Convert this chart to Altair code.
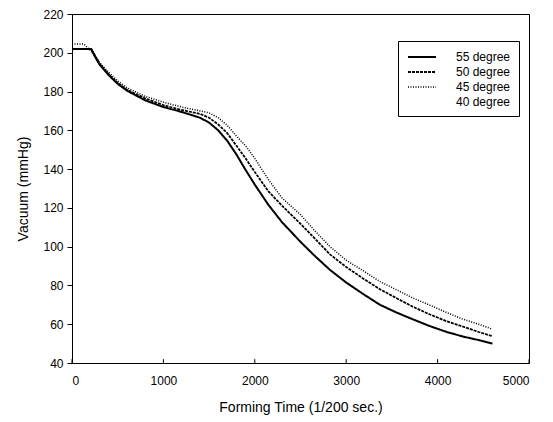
import altair as alt
import pandas as pd

series = ["55 degree", "50 degree", "45 degree", "40 degree"]

t55 = [0, 210, 240, 300, 400, 500, 600, 800, 1000, 1200, 1400, 1500, 1600, 1700, 1800, 1900,
       2000, 2150, 2300, 2500, 2650, 2823, 3000, 3188, 3370, 3552, 3730, 3917, 4100, 4282, 4450, 4600]
v55 = [202, 202, 199, 194, 188.5, 184, 180.5, 175.5, 172, 169.5, 166.5, 164, 160, 154.5, 147.5, 139.5,
       132, 121.5, 112.5, 102.5, 95.5, 88, 81.5, 75.5, 70, 66, 62.5, 59, 56, 53.6, 51.8, 50]

t50 = [0, 210, 240, 300, 400, 500, 600, 800, 1000, 1200, 1400, 1500, 1600, 1700, 1800, 1900,
       2000, 2150, 2300, 2500, 2650, 2823, 3000, 3188, 3370, 3552, 3730, 3917, 4100, 4282, 4450, 4600]
v50 = [202, 202, 199.5, 194.5, 189, 184.5, 181, 176.5, 173, 170.5, 168.5, 166.5, 163, 158.5, 152, 145.5,
       138.5, 128.5, 121, 111.8, 104.5, 96, 89.5, 83.5, 78, 73.4, 69, 65, 61.5, 58.7, 56, 53.8]

t45 = [0, 130, 240, 300, 400, 500, 600, 800, 1000, 1200, 1400, 1500, 1600, 1700, 1800, 1900,
       2000, 2150, 2300, 2500, 2650, 2823, 3000, 3188, 3370, 3552, 3730, 3917, 4100, 4282, 4450, 4600]
v45 = [204.5, 204.5, 199.5, 195, 190, 185.5, 182, 177.5, 174.5, 172, 170, 169, 166.5, 162.5, 157, 152,
       145.5, 134.5, 125, 116.5, 108.5, 100, 93, 87.5, 82, 77.7, 73.5, 69.8, 66, 62.5, 60, 57.4]

x_ticks = [0, 1000, 2000, 3000, 4000, 5000]
y_ticks = [40, 60, 80, 100, 120, 140, 160, 180, 200, 220]

rows = []
for name, ts, vs in [("55 degree", t55, v55), ("50 degree", t50, v50), ("45 degree", t45, v45)]:
    for t, v in zip(ts, vs):
        rows.append({"series": name, "time": t, "vacuum": v})
df = pd.DataFrame(rows)
tick_df = pd.DataFrame({"time": x_ticks})

FONT = "Liberation Sans"

x_scale = alt.Scale(domain=[0, 5000], nice=False)
x_axis = alt.Axis(values=x_ticks, title="Forming Time (1/200 sec.)", ticks=False, tickSize=0,
                  labelPadding=12, titlePadding=14, grid=False, format="d", labelOverlap=False)
y_scale = alt.Scale(domain=[40, 220], nice=False, zero=False)
y_axis = alt.Axis(values=y_ticks, title="Vacuum (mmHg)", tickSize=5, labelPadding=4,
                  titlePadding=12, grid=False, labelOverlap=False)

x_enc = alt.X("time:Q", scale=x_scale, axis=x_axis)
y_enc = alt.Y("vacuum:Q", scale=y_scale, axis=y_axis)

legend = alt.Legend(
    title=None, orient="none", legendX=326, legendY=27,
    fillColor="white", strokeColor="black", padding=8,
    symbolType="M-2,0H2", symbolSize=196, symbolOffset=8,
    labelFontSize=12, labelFont=FONT,
    labelOffset=26, rowPadding=1, labelColor="black",
)

lines = alt.Chart(df).mark_line(strokeCap="butt").encode(
    x=x_enc,
    y=y_enc,
    color=alt.Color("series:N", scale=alt.Scale(domain=series, range=["black", "black", "black", "transparent"]), legend=legend),
    strokeDash=alt.StrokeDash("series:N", scale=alt.Scale(domain=series, range=[[1, 0], [3, 1], [1, 1.5], [1, 0]]), legend=legend),
    strokeWidth=alt.StrokeWidth("series:N", scale=alt.Scale(domain=series, range=[2, 1.3, 1, 1]), legend=legend),
)

xticks = alt.Chart(tick_df).mark_rule(color="black", strokeWidth=1).encode(
    x=x_enc,
    y=alt.YDatum(40, scale=y_scale, axis=y_axis),
    y2=alt.Y2Datum(42),
)

chart = alt.layer(lines, xticks).properties(
    width=457, height=349,
    padding={"left": 64, "top": 6, "right": 16, "bottom": 52},
    autosize=alt.AutoSizeParams(type="none"),
).configure_view(
    stroke="black", strokeWidth=1
).configure_axis(
    domainColor="black", tickColor="black", labelColor="black", titleColor="black",
    labelFont=FONT, titleFont=FONT, labelFontSize=12, titleFontSize=14, titleFontWeight="normal",
)

chart.save("out.html", embed_options={"renderer": "svg", "actions": False})
